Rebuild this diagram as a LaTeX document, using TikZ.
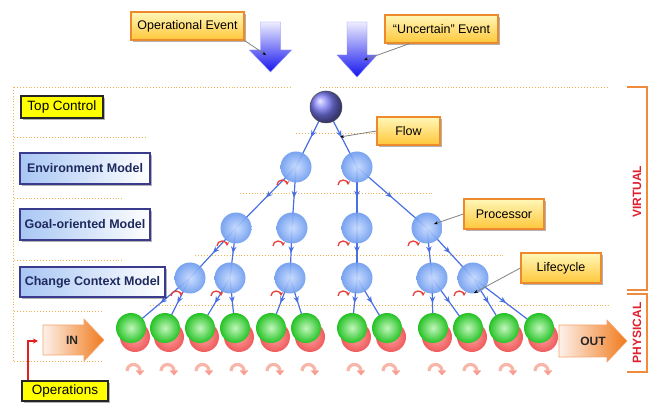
\documentclass[tikz,border=0pt]{standalone}
\usepackage{fontspec}
\setmainfont{Liberation Sans}
\usetikzlibrary{arrows.meta,decorations.markings,shadows,calc,backgrounds}

\definecolor{sepor}{HTML}{F3B450}
\definecolor{brk}{HTML}{EF8B3B}
\definecolor{edgeb}{HTML}{4A6FE3}
\definecolor{cycred}{HTML}{E8403A}
\definecolor{pinkarc}{HTML}{F6B6A8}
\definecolor{callbd}{HTML}{EE8A2E}
\definecolor{calltop}{HTML}{FFF7B8}
\definecolor{callbot}{HTML}{FFC73A}
\definecolor{modbd}{HTML}{3B3B8E}
\definecolor{modfill}{HTML}{A8C6F4}
\definecolor{modtext}{HTML}{1E2A5E}
\definecolor{labred}{HTML}{E0202E}
\definecolor{blin}{HTML}{C6DAFF}
\definecolor{blout}{HTML}{6E9CEE}
\definecolor{grin}{HTML}{C2F7BC}
\definecolor{grout}{HTML}{25C225}
\definecolor{rdin}{HTML}{FFA0A0}
\definecolor{rdout}{HTML}{EE5A5A}
\definecolor{topball}{HTML}{7B7BF5}
\definecolor{arrtop}{HTML}{EEEEFF}
\definecolor{arrbot}{HTML}{1414EE}
\definecolor{ioleft}{HTML}{FDF1EA}
\definecolor{ioright}{HTML}{F07A1C}
\definecolor{iobd}{HTML}{F3A46E}
\definecolor{yel}{HTML}{FFFF00}
\definecolor{opred}{HTML}{E02020}

\tikzset{
  sepline/.style={sepor, dotted, line width=0.9pt},
  flowedge/.style={edgeb, line width=1.2pt, postaction=decorate,
    decoration={markings, mark=at position 0.5 with {\arrow{Stealth[length=6.5pt,width=5.5pt]}}}},
  procball/.style={circle, minimum size=31pt, inner sep=0pt, inner color=blin, outer color=blout, opacity=0.92},
  opball/.style={circle, minimum size=30pt, inner sep=0pt, inner color=grin, outer color=grout},
  shadowball/.style={circle, minimum size=30pt, inner sep=0pt, inner color=rdin, outer color=rdout},
  topnode/.style={circle, minimum size=32pt, inner sep=0pt, ball color=topball, draw=black!70, line width=0.5pt},
  cyc/.style={cycred, line width=1.3pt, -{Stealth[length=4pt,width=4.5pt]}},
  lifearc/.style={pinkarc, line width=3.2pt},
  lifehead/.style={fill=pinkarc!80!red!90!white},
  softshadow/.style={drop shadow={shadow xshift=2pt, shadow yshift=-2pt, opacity=0.3, fill=black}},
  callout/.style={draw=callbd, line width=1.2pt, top color=calltop, bottom color=callbot,
    inner sep=0pt, font=\fontsize{12.5}{14}\selectfont, softshadow},
  calline/.style={black!50, line width=0.8pt, -{Stealth[length=4pt,width=3pt,black]}},
  modelbox/.style={draw=modbd, line width=1.1pt, left color=modfill, right color=white,
    inner sep=0pt, font=\bfseries\fontsize{12.5}{15}\selectfont,
    text=modtext, softshadow},
  yellowtag/.style={draw=black!85, line width=1.1pt, fill=yel, inner sep=0pt,
    font=\fontsize{13.5}{15}\selectfont, softshadow},
  bracketline/.style={brk, line width=1.3pt},
  sidelabel/.style={text=labred, font=\bfseries\fontsize{12}{14}\selectfont, rotate=90},
  blockdown/.style={top color=arrtop, bottom color=arrbot, draw=arrbot!50, line width=0.4pt},
  ioarrow/.style={left color=ioleft, right color=ioright, draw=iobd, line width=0.6pt},
  iolabel/.style={font=\bfseries\fontsize{12}{14}\selectfont, text=black!85},
  redline/.style={opred, line width=1.2pt, -{Stealth[length=5pt,width=5pt]}}
}

\begin{document}
\begin{tikzpicture}[x=1pt,y=-1pt]
\useasboundingbox (0,0) rectangle (649,403);

% ---- event arrows at the top ----
\draw[blockdown] (260.5,22) -- (280.5,22) -- (280.5,50) -- (291.5,50) -- (270.5,72)
  -- (249.5,50) -- (260.5,50) -- cycle;
\draw[blockdown] (347,22) -- (367,22) -- (367,55) -- (377,55) -- (357,77)
  -- (337,55) -- (347,55) -- cycle;

% ---- processors ----
\node[topnode] (top) at (326,107) {};
\node[procball] (e1) at (296,167) {};
\node[procball] (e2) at (357,167) {};
\node[procball] (g1) at (236,228) {};
\node[procball] (g2) at (292,228) {};
\node[procball] (g3) at (357,228) {};
\node[procball] (g4) at (427,228) {};
\node[procball] (c1) at (190,278) {};
\node[procball] (c2) at (230,278) {};
\node[procball] (c3) at (290,278) {};
\node[procball] (c4) at (357,278) {};
\node[procball] (c5) at (432,278) {};
\node[procball] (c6) at (473,278) {};

% ---- physical operations (green) with their red shadows ----
\foreach \i/\x in {1/131,2/165,3/200,4/235,5/271,6/306,7/352,8/387,9/433,10/468,11/504,12/539}{
  \node[shadowball] (s\i) at (\x+4,337) {};
  \node[opball] (p\i) at (\x,328) {};
}

% ---- separators, edges (behind the spheres) ----
\begin{scope}[on background layer]
  \draw[sepline] (14,87) -- (290,87);
  \draw[sepline] (320,87) -- (610,87);
  \draw[sepline] (13,87) -- (13,361);
  \draw[sepline] (14,137) -- (145,137);
  \draw[sepline] (296,133) -- (376,133);
  \draw[sepline] (14,198) -- (123,198);
  \draw[sepline] (240,193) -- (432,193);
  \draw[sepline] (14,260) -- (123,260);
  \draw[sepline] (195,255) -- (503,255);
  \draw[sepline] (14,311) -- (103,311);
  \draw[sepline] (150,305) -- (610,305);
  \draw[sepline] (14,361) -- (103,361);

  \foreach \a/\b in {top/e1,top/e2,e1/g1,e1/g2,e2/g3,e2/g4,
                     g1/c1,g1/c2,g2/c3,g3/c4,g4/c5,g4/c6,
                     c1/p1,c1/p2,c2/p3,c2/p4,c3/p5,c3/p6,
                     c4/p7,c4/p8,c5/p9,c5/p10,c6/p11,c6/p12}{
    \draw[flowedge] (\a.center) -- (\b.center);
  }
\end{scope}

% ---- lifecycle marks ----
\foreach \n in {e1,e2,g1,g2,g3,g4,c1,c2,c3,c4,c5,c6}{
  \draw[cyc] ($(\n)+(-19,18)$) arc[start angle=180, end angle=360, radius=5];
}
\foreach \i in {1,...,12}{
  \coordinate (lc\i) at ($(p\i)+(2.5,43)$);
  \draw[lifearc] ($(lc\i)+(-6.5,0)$) arc[start angle=180, end angle=355, radius=6.5];
  \fill[lifehead] ($(lc\i)+(2.3,-0.5)$) -- ($(lc\i)+(10.7,-0.5)$) -- ($(lc\i)+(6.5,4.5)$) -- cycle;
}

% ---- IN / OUT ----
\draw[ioarrow] (43,325) -- (84,325) -- (84,319) -- (104,340) -- (84,361) -- (84,355)
  -- (43,355) -- cycle;
\node[iolabel] (inlab) at (72,340) {IN};
\draw[ioarrow] (559,325) -- (607,325) -- (607,320) -- (627,341) -- (607,362) -- (607,357)
  -- (559,357) -- cycle;
\node[iolabel] (outlab) at (593,341) {OUT};

% ---- level labels ----
\node[yellowtag, minimum width=82pt, minimum height=22pt] (topc) at (62,107) {Top Control};
\node[modelbox, minimum width=130pt, minimum height=31pt] (envm) at (85,168.5) {Environment Model};
\node[modelbox, minimum width=130pt, minimum height=31pt] (goalm) at (85,224.5) {Goal-oriented Model};
\node[modelbox, minimum width=145pt, minimum height=30pt] (ccm) at (92.5,282) {Change Context Model};
\node[yellowtag, minimum width=86pt, minimum height=20pt] (ops) at (65,391) {Operations};

\coordinate (opbend) at (28,341);
\coordinate (optip) at (38,341);
\draw[redline] (ops.north -| opbend) |- (optip);

% ---- callouts ----
\node[callout, minimum width=113pt, minimum height=28pt] (opev) at (187.5,26) {Operational Event};
\node[callout, minimum width=113pt, minimum height=28pt] (unc) at (441.5,29) {“Uncertain” Event};
\node[callout, minimum width=63pt, minimum height=28pt] (flowc) at (408.5,131) {Flow};
\node[callout, minimum width=80pt, minimum height=30pt] (proc) at (504,214) {Processor};
\node[callout, minimum width=80pt, minimum height=30pt] (life) at (561,268) {Lifecycle};

\coordinate (opevhit) at (266,55);
\coordinate (unchit) at (364,60);
\coordinate (flowhit) at (340,137);
\coordinate (prochit) at (434,224);
\coordinate (lifehit) at (474,293);
\draw[calline] (opev.south east) -- (opevhit);
\draw[calline] ($(unc.south west)!0.22!(unc.south east)$) -- (unchit);
\draw[calline] (flowc.west) -- (flowhit);
\draw[calline] (proc.west) -- (prochit);
\draw[calline] (life.west) -- (lifehit);

% ---- virtual / physical brackets ----
\draw[bracketline] (627,87) -- (647,87) -- (647,290) -- (627,290);
\draw[bracketline] (627,294) -- (647,294) -- (647,372) -- (627,372);
\node[sidelabel] (virt) at (637,192) {VIRTUAL};
\node[sidelabel] (phys) at (637,333) {PHYSICAL};
\end{tikzpicture}
\end{document}
